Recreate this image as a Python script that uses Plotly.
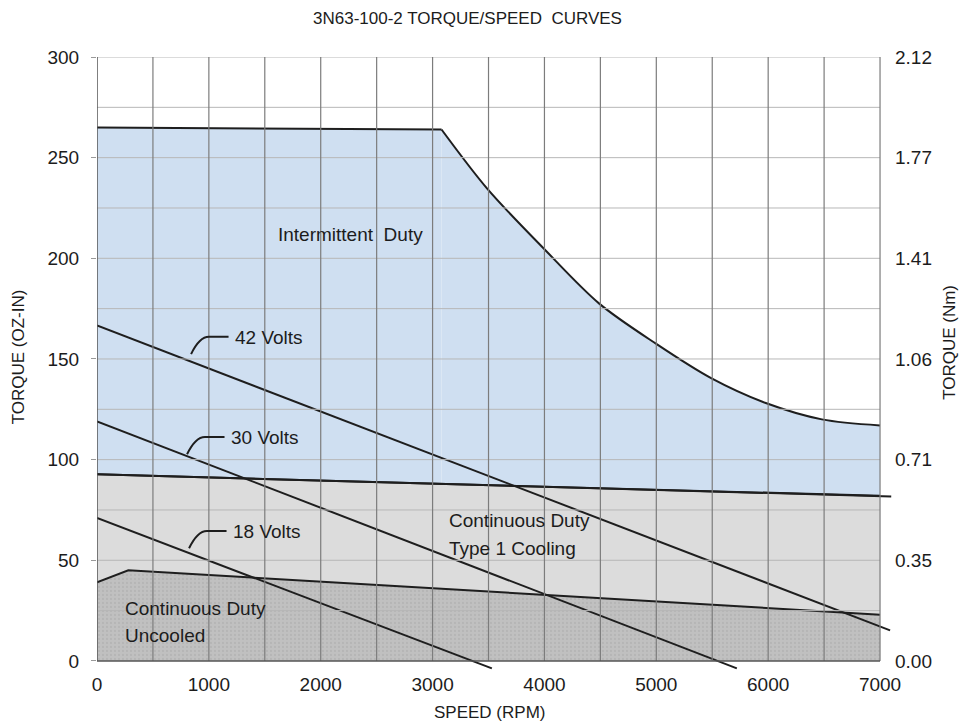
import plotly.graph_objects as go

# ---- axis ticks -------------------------------------------------------------
speed_ticks = [0, 1000, 2000, 3000, 4000, 5000, 6000, 7000]
torque_ticks = [0, 50, 100, 150, 200, 250, 300]
nm_tick_labels = ["0.00", "0.35", "0.71", "1.06", "1.41", "1.77", "2.12"]
grid_speed = [500, 1000, 1500, 2000, 2500, 3000, 3500, 4000, 4500, 5000,
              5500, 6000, 6500, 7000]
grid_torque = [25, 50, 75, 100, 125, 150, 175, 200, 225, 250, 275, 300]

# ---- duty envelopes (speed in RPM, torque in oz-in) -------------------------
# intermittent: flat plateau, then the roll-off curve
inter_flat_rpm = [0, 3080]
inter_flat_tq = [265, 264]
inter_roll_rpm = [3080, 3490, 4000, 4490, 5000, 5490, 5985, 6480, 7000]
inter_roll_tq = [264, 234.5, 204.5, 177.5, 157.5, 140.5, 128, 120, 117]

type1_rpm = [0, 7000, 7100]
type1_tq = [92.7, 82.0, 81.7]

uncooled_rpm = [0, 280, 7000]
uncooled_tq = [39, 45, 23]

# ---- supply-voltage load lines ----------------------------------------------
v42_rpm = [0, 7090]
v42_tq = [166.6, 15.2]
v30_rpm = [0, 5720]
v30_tq = [119, -3.7]
v18_rpm = [0, 3530]
v18_tq = [71, -3.7]

volt_labels = ["42 Volts", "30 Volts", "18 Volts"]
volt_label_rpm = [1216, 1180, 1198]
volt_label_tq = [160.7, 111.0, 64.3]

region_text = ["Intermittent\u00a0 Duty", "Continuous Duty", "Type 1 Cooling",
               "Continuous Duty", "Uncooled"]
region_rpm = [2262, 3129, 3129, 232, 232]
region_tq = [212, 69.8, 55.9, 26.1, 12.7]
region_anchor = ["center", "left", "left", "left", "left"]

FONT = "Liberation Sans, Arial, Helvetica, sans-serif"
TXT = "#1c1c1c"
LINE = "#1e1e1e"
BLUE = "#cfdff1"

fig = go.Figure()

# regions are stacked from the top down, each filled to zero torque
fig.add_trace(go.Scatter(
    x=inter_flat_rpm, y=inter_flat_tq, mode="lines", fill="tozeroy",
    fillcolor=BLUE, line=dict(color=LINE, width=2),
    hoverinfo="skip", showlegend=False))
fig.add_trace(go.Scatter(
    x=inter_roll_rpm, y=inter_roll_tq, mode="lines", fill="tozeroy",
    fillcolor=BLUE,
    line=dict(color=LINE, width=2, shape="spline", smoothing=0.9),
    hoverinfo="skip", showlegend=False))
fig.add_trace(go.Scatter(
    x=type1_rpm[:2], y=type1_tq[:2], mode="lines", fill="tozeroy",
    fillcolor="#dcdcdc", line=dict(color=LINE, width=2),
    hoverinfo="skip", showlegend=False))
fig.add_trace(go.Scatter(
    x=uncooled_rpm, y=uncooled_tq, mode="lines", fill="tozeroy",
    fillcolor="#bebebe",
    fillpattern=dict(shape=".", fgcolor="#a9a9a9", bgcolor="#c0c0c0",
                     size=4, solidity=0.25),
    line=dict(color=LINE, width=2), hoverinfo="skip", showlegend=False))

# boundary line of type-1 region runs slightly past the axis end
fig.add_trace(go.Scatter(
    x=type1_rpm, y=type1_tq, mode="lines", line=dict(color=LINE, width=2),
    hoverinfo="skip", showlegend=False))

for xs, ys in [(v42_rpm, v42_tq), (v30_rpm, v30_tq), (v18_rpm, v18_tq)]:
    fig.add_trace(go.Scatter(
        x=xs, y=ys, mode="lines", line=dict(color=LINE, width=2),
        hoverinfo="skip", showlegend=False))

# carrier for the secondary (N·m) axis
fig.add_trace(go.Scatter(x=[0], y=[0], yaxis="y2", mode="markers",
                         marker=dict(opacity=0), hoverinfo="skip",
                         showlegend=False))

shapes = []
# grid drawn over the filled regions
for g in grid_torque:
    shapes.append(dict(type="line", xref="x", yref="y", x0=0, x1=7000,
                       y0=g, y1=g, layer="above",
                       line=dict(color="#b7b7b7", width=1)))
for g in grid_speed:
    shapes.append(dict(type="line", xref="x", yref="y", x0=g, x1=g,
                       y0=0, y1=300, layer="above",
                       line=dict(color="#7c7c7c", width=1.2)))
# frame on the torque and speed axes
shapes.append(dict(type="line", xref="x", yref="y", x0=0, x1=0, y0=0, y1=300,
                   layer="above", line=dict(color="#555555", width=1.5)))
shapes.append(dict(type="line", xref="x", yref="y", x0=0, x1=7000, y0=0, y1=0,
                   layer="above", line=dict(color="#555555", width=1.5)))

# hooked leaders pointing at each voltage line
for lx, ly in zip(volt_label_rpm, volt_label_tq):
    path = (f"M {lx-375},{ly-8.3} Q {lx-300},{ly+0.3} {lx-215},{ly+0.3} "
            f"L {lx-40},{ly+0.3}")
    shapes.append(dict(type="path", xref="x", yref="y", path=path,
                       layer="above", line=dict(color=LINE, width=2)))

annotations = []
for t, lx, ly in zip(volt_labels, volt_label_rpm, volt_label_tq):
    annotations.append(dict(text=t, x=lx, y=ly, xref="x", yref="y",
                            xanchor="left", yanchor="middle", showarrow=False,
                            font=dict(family=FONT, size=19, color=TXT)))
for t, lx, ly, a in zip(region_text, region_rpm, region_tq, region_anchor):
    annotations.append(dict(text=t, x=lx, y=ly, xref="x", yref="y",
                            xanchor=a, yanchor="middle", showarrow=False,
                            font=dict(family=FONT, size=19, color=TXT)))

# titles
annotations.append(dict(text="3N63-100-2 TORQUE/SPEED  CURVES", x=3308, y=1,
                        xref="x", yref="paper", yshift=39, xanchor="center",
                        yanchor="middle", showarrow=False,
                        font=dict(family=FONT, size=17, color=TXT)))
annotations.append(dict(text="SPEED (RPM)", x=3513, y=0, xref="x",
                        yref="paper", yshift=-42, xanchor="center",
                        yanchor="middle", showarrow=False,
                        font=dict(family=FONT, size=17, color=TXT)))
annotations.append(dict(text="TORQUE (OZ-IN)", x=0, y=150.8, xref="paper",
                        yref="y", xshift=-79, textangle=-90,
                        xanchor="center", yanchor="middle", showarrow=False,
                        font=dict(family=FONT, size=17, color=TXT)))
annotations.append(dict(text="TORQUE (Nm)", x=1, y=158, xref="paper",
                        yref="y", xshift=58, textangle=-90,
                        xanchor="center", yanchor="middle", showarrow=False,
                        font=dict(family=FONT, size=17, color=TXT)))

fig.update_layout(
    width=969, height=728,
    margin=dict(l=97, r=77, t=57, b=58),
    paper_bgcolor="white", plot_bgcolor="white",
    showlegend=False,
    xaxis=dict(range=[0, 7107], tickvals=speed_ticks,
               ticktext=[str(v) for v in speed_ticks],
               showgrid=False, zeroline=False, showline=False, ticks="",
               ticklabelstandoff=1,
               tickfont=dict(family=FONT, size=19, color=TXT)),
    yaxis=dict(range=[-4.5, 300], tickvals=torque_ticks,
               ticktext=[str(v) for v in torque_ticks],
               showgrid=False, zeroline=False, showline=False,
               ticks="outside", ticklen=5, tickcolor="#999999",
               ticklabelstandoff=8,
               tickfont=dict(family=FONT, size=19, color=TXT)),
    yaxis2=dict(range=[-4.5, 300], overlaying="y", side="right",
                tickvals=torque_ticks, ticktext=nm_tick_labels,
                showgrid=False, zeroline=False, showline=False, ticks="",
                ticklabelstandoff=2,
                tickfont=dict(family=FONT, size=19, color=TXT)),
    shapes=shapes,
    annotations=annotations,
)

fig.write_html("out.html")
